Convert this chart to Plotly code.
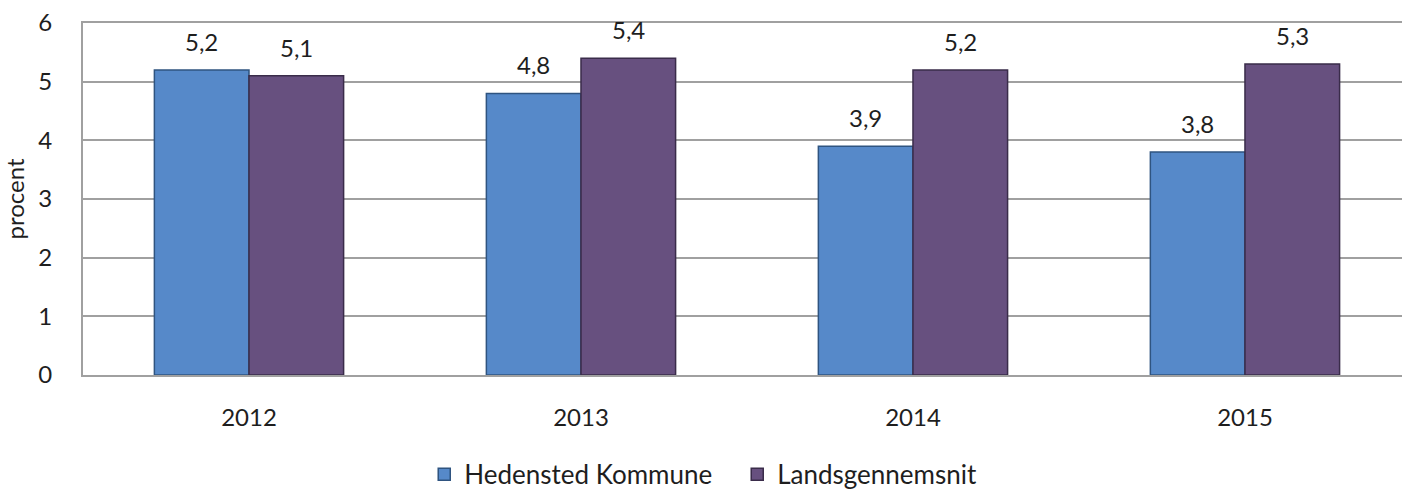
import plotly.graph_objects as go

years = ["2012", "2013", "2014", "2015"]
hedensted = [5.2, 4.8, 3.9, 3.8]
landsgennemsnit = [5.1, 5.4, 5.2, 5.3]
series_names = ["Hedensted Kommune", "Landsgennemsnit"]
colors = ["#5689C9", "#67507F"]
edge_colors = ["#2F5480", "#3A2C4A"]
y_ticks = [0, 1, 2, 3, 4, 5, 6]

FONT = "Lato, Carlito, Calibri, sans-serif"
TXT = "#1E1E1E"
fig = go.Figure()
for name, vals, col, ec in zip(series_names, [hedensted, landsgennemsnit], colors, edge_colors):
    fig.add_trace(go.Bar(
        x=years, y=vals, name=name,
        marker=dict(color=col, line=dict(color=ec, width=1.5)),
    ))

group_w = 0.57
for i, vals in enumerate([hedensted, landsgennemsnit]):
    for k, v in enumerate(vals):
        fig.add_annotation(
            x=k + (-1 if i == 0 else 1) * group_w / 4, y=v, xref="x", yref="y",
            text=f"{v:.1f}".replace(".", ","), showarrow=False,
            yanchor="bottom", yshift=12,
            font=dict(family=FONT, size=24, color=TXT),
        )

fig.update_layout(
    width=1402, height=493, autosize=False,
    margin=dict(l=83, r=0, t=23, b=118, autoexpand=False),
    paper_bgcolor="white", plot_bgcolor="white",
    barmode="group", bargap=1 - group_w, bargroupgap=0,
    separators=", ",
    font=dict(family=FONT, size=24, color=TXT),
    showlegend=True,
    legend=dict(orientation="h", x=0.496, xanchor="center", y=-0.349, yanchor="bottom",
                font=dict(family=FONT, size=26, color=TXT),
                itemwidth=30, traceorder="normal", tracegroupgap=0,
                entrywidth=268, borderwidth=0),
)
fig.update_xaxes(
    type="category", range=[-0.5, 3.473], automargin=False,
    showline=True, linecolor="#A0A0A0", linewidth=2, mirror=True,
    ticks="", ticklabelstandoff=20,
    tickfont=dict(family=FONT, size=24, color=TXT),
)
fig.update_yaxes(
    range=[0, 6], tickvals=y_ticks, showgrid=True, gridcolor="#A0A0A0", gridwidth=1.5,
    showline=True, linecolor="#A0A0A0", linewidth=2, mirror=True, automargin=False,
    ticks="", ticklabelstandoff=24, zeroline=False,
    tickfont=dict(family=FONT, size=24, color=TXT),
    title=dict(text="procent", standoff=8, font=dict(family=FONT, size=24, color=TXT)),
)
fig.write_html("out.html")
